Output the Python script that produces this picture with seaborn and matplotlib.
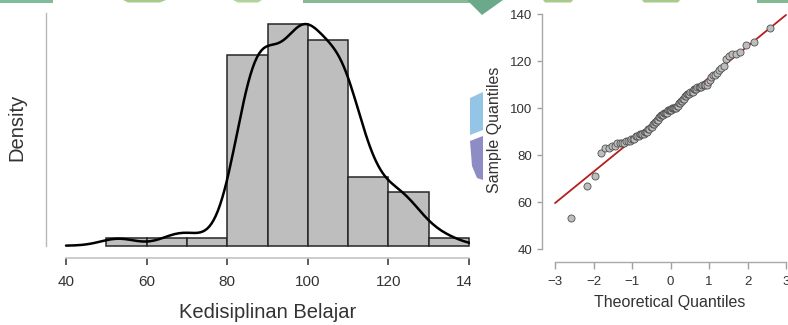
import numpy as np
import pandas as pd
import matplotlib
matplotlib.use("Agg")
import matplotlib.pyplot as plt
import seaborn as sns
from statistics import NormalDist
from matplotlib.patches import Polygon, Rectangle

kedisiplinan = [53, 67, 71,
                81, 83, 83, 84, 84, 85, 85, 85, 85, 86, 86, 86,
                87, 87, 87, 88, 88, 88, 89, 89, 89, 89, 90, 90, 90,
                91, 91, 92, 92, 93, 93, 94, 94, 95, 95, 96, 96,
                97, 97, 97, 98, 98, 98, 98, 99, 99, 99, 99, 99, 100, 100, 100, 100, 100,
                101, 101, 102, 102, 103, 103, 104, 104, 105, 105, 106, 106, 106,
                107, 107, 107, 108, 108, 108, 109, 109, 109, 109, 110, 110, 110, 110,
                111, 112, 113, 114, 114, 115, 116, 117, 118,
                121, 122, 123, 123, 124, 127, 128,
                134]
bin_edges = [50, 60, 70, 80, 90, 100, 110, 120, 130, 140]
hist_xticks = [40, 60, 80, 100, 120, 140]
qq_xticks = [-3, -2, -1, 0, 1, 2, 3]
qq_yticks = [40, 60, 80, 100, 120, 140]
hist_xlabel = "Kedisiplinan Belajar"
hist_ylabel = "Density"
qq_xlabel = "Theoretical Quantiles"
qq_ylabel = "Sample Quantiles"

sns.set_style("white")
plt.rcParams['font.family'] = ['Liberation Sans', 'DejaVu Sans']

W, H = 788, 325
fig = plt.figure(figsize=(W / 100, H / 100), dpi=100)
fig.patch.set_facecolor("white")

def fbox(x0, y0, x1, y1):
    return [x0 / W, 1 - y1 / H, (x1 - x0) / W, (y1 - y0) / H]

def fpt(x, y):
    return (x / W, 1 - y / H)

# ---- background decorations (document artifacts) ----
deco = [
    ([(0, 0), (53, 0), (53, 2.5), (0, 2.5)], "#80bc98"),
    ([(123, 0), (166, 0), (160, 2.5), (128, 2.5)], "#a8cb8b"),
    ([(233, 0), (262, 0), (258, 2.5), (238, 2.5)], "#b4d39a"),
    ([(303, 0), (470, 0), (470, 2.5), (303, 2.5)], "#86b996"),
    ([(467, 0), (503, 0), (482, 15)], "#6aa98a"),
    ([(543, 0), (573, 0), (571, 2.5), (545, 2.5)], "#a8cb8b"),
    ([(642, 0), (680, 0), (678, 2.5), (644, 2.5)], "#a8cb8b"),
    ([(757, 0), (788, 0), (788, 2.5), (757, 2.5)], "#84b996"),
    ([(470, 98), (483, 92), (483, 130), (470, 135)], "#95c5e6"),
    ([(470, 141), (483, 136), (483, 180), (477, 178), (472, 166)], "#8e8cc4"),
]
for pts, col in deco:
    fig.add_artist(Polygon([fpt(*p) for p in pts], closed=True, transform=fig.transFigure,
                           facecolor=col, edgecolor="none", zorder=-1))

data = np.array(kedisiplinan, dtype=float)
n = len(data)
sd = data.std(ddof=1)

# right-closed bins (a, b], as R's hist() counts them
codes = pd.cut(data, bins=bin_edges, right=True).codes
counts = np.bincount(codes[codes >= 0], minlength=len(bin_edges) - 1)
mids = (np.array(bin_edges[:-1]) + np.array(bin_edges[1:])) / 2

# ---- left: histogram + density ----
axL = fig.add_axes(fbox(45.7, 10, 470, 258))
axL.set_facecolor("none")
sns.histplot(x=mids, weights=counts, bins=bin_edges, stat="density", color="#bebebe",
             alpha=1, edgecolor="#262626", linewidth=1.1, ax=axL)
iqr = np.percentile(data, 75) - np.percentile(data, 25)
bw_adj = 0.9 * min(sd, iqr / 1.34) / sd * 0.92
sns.kdeplot(x=data, bw_adjust=bw_adj, cut=3, clip=(40, 200), color="black",
            linewidth=1.8, ax=axL)
px_per_density = 221.4 / (29 / (n * 10))
axL.set_xlim(34.96, 140.25)
axL.set_ylim(-(258 - 245.7) / px_per_density, (245.7 - 10) / px_per_density)
axL.set_xticks(hist_xticks)
axL.set_yticks([])
for s in ["top", "right"]:
    axL.spines[s].set_visible(False)
axL.spines["left"].set_bounds(0, (245.7 - 13) / px_per_density)
axL.spines["left"].set_color("#b8b8b8")
axL.spines["left"].set_linewidth(1.0)
axL.spines["bottom"].set_bounds(40, 140)
axL.spines["bottom"].set_color("#c4c4c4")
axL.spines["bottom"].set_linewidth(1.2)
axL.tick_params(axis="x", direction="out", length=5, width=1.1, color="#333333",
                labelsize=11, labelcolor="#333333", pad=7, bottom=True)
axL.set_xlabel(hist_xlabel, fontsize=14.5, color="#333333", va="center")
axL.xaxis.set_label_coords((268 - 45.7) / (470 - 45.7), (258 - 312) / 248)
axL.set_ylabel(hist_ylabel, fontsize=14.5, color="#333333", va="center")
axL.yaxis.set_label_coords((17 - 45.7) / (470 - 45.7), (258 - 127) / 248)

# hide the part of the left panel cut off by the right panel
fig.add_artist(Rectangle(fpt(470.5, 295), 70 / W, 30 / H, transform=fig.transFigure,
                         facecolor="white", edgecolor="none", zorder=2))

# ---- right: Q-Q plot ----
axR = fig.add_axes(fbox(542, 5, 788, 262))
axR.set_facecolor("none")
nd = NormalDist()
theo = np.array([nd.inv_cdf((i - 0.5) / n) for i in range(1, n + 1)])
sample = np.sort(data)
line_x = np.array([qq_xticks[0], qq_xticks[-1]], dtype=float)
line_y = data.mean() + sd * line_x
sns.lineplot(x=line_x, y=line_y, color="#b41f1f", linewidth=1.3, ax=axR, zorder=2)
sns.scatterplot(x=theo, y=sample, s=26, color="#bdbdbd", edgecolor="#505050",
                linewidth=0.6, ax=axR, zorder=3)
axR.set_xlim(-3.338, 3.052)
axR.set_ylim(34.47, 143.83)
axR.set_xticks(qq_xticks)
axR.set_yticks(qq_yticks)
for s in ["top", "right"]:
    axR.spines[s].set_visible(False)
axR.spines["left"].set_bounds(40, 140)
axR.spines["bottom"].set_bounds(-3, 3)
for s in ["left", "bottom"]:
    axR.spines[s].set_color("#a8a8a8")
    axR.spines[s].set_linewidth(1.0)
axR.tick_params(axis="x", direction="out", length=5, width=1.0, color="#a0a0a0",
                labelsize=9.5, labelcolor="#333333", pad=5, bottom=True)
axR.tick_params(axis="y", direction="out", length=3.6, width=1.0, color="#a0a0a0",
                labelsize=9.5, labelcolor="#333333", pad=3.5, left=True)
axR.set_xlabel(qq_xlabel, fontsize=11.5, color="#333333", va="center")
axR.xaxis.set_label_coords((670 - 542) / 246, (262 - 302) / 257)
axR.set_ylabel(qq_ylabel, fontsize=11.5, color="#333333", va="center")
axR.yaxis.set_label_coords((494 - 542) / 246, (262 - 130) / 257)

fig.savefig("out.png", dpi=100)
